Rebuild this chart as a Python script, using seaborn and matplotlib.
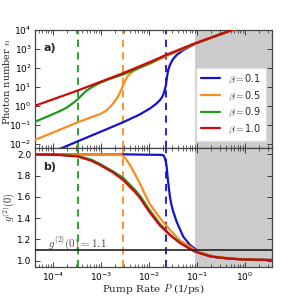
import numpy as np
import pandas as pd
import matplotlib
matplotlib.use("Agg")
import matplotlib.pyplot as plt
import seaborn as sns

# ---- data (log10 units) ----
betas = ["0.1", "0.5", "0.9", "1.0"]
colors = ["#1414c8", "#ff8a1e", "#1e9a1e", "#cc0a0a"]

# photon number n  (log10 P, log10 n)
n_b01_logP = [-4.42, -3.485, -3.021, -2.542, -2.2, -1.979, -1.85, -1.771, -1.72, -1.688, -1.646, -1.625, -1.6, -1.563, -1.5, -1.423, -1.3, -1.215, -1.042, -0.729, -0.521, -0.271, 0.6]
n_b01_logn = [-2.84, -1.85, -1.36, -0.85, -0.45, -0.12, 0.12, 0.32, 0.50, 0.70, 1.12, 1.54, 1.90, 2.17, 2.47, 2.69, 2.92, 3.04, 3.27, 3.57, 3.76, 3.99, 4.83]
n_b05_logP = [-4.42, -3.485, -3.2, -3.021, -2.9, -2.813, -2.72, -2.646, -2.6, -2.556, -2.5, -2.45, -2.396, -2.3, -2.188, -1.979, -1.646, -1.354, -1.042, -0.271, 0.6]
n_b05_logn = [-1.82, -0.85, -0.58, -0.42, -0.25, -0.05, 0.22, 0.51, 0.74, 1.00, 1.32, 1.55, 1.70, 1.88, 2.02, 2.23, 2.62, 2.93, 3.27, 3.98, 4.83]
n_b09_logP = [-4.42, -4.063, -3.85, -3.708, -3.6, -3.485, -3.39, -3.298, -3.15, -3.021, -2.85, -2.673, -2.542, -2.3, -1.979, -1.646, -1.042, -0.271, 0.6]
n_b09_logn = [-0.87, -0.49, -0.25, -0.07, 0.13, 0.36, 0.60, 0.82, 1.06, 1.22, 1.40, 1.55, 1.66, 1.91, 2.26, 2.67, 3.29, 3.99, 4.83]
n_b10_logP = [-4.42, -3.485, -2.542, -1.979, -1.646, -1.042, -0.271, 0.6]
n_b10_logn = [-0.02, 0.82, 1.73, 2.32, 2.69, 3.30, 4.00, 4.84]

# g2(0)  (log10 P, g2)
g_b01_logP = [-4.42, -2.5, -1.72, -1.69, -1.667, -1.645, -1.631, -1.615, -1.598, -1.563, -1.53, -1.494, -1.423, -1.35, -1.285, -1.146, -0.938, -0.590, -0.104, 0.6]
g_b01_g = [2.0, 2.0, 1.995, 1.985, 1.96, 1.92, 1.88, 1.80, 1.725, 1.60, 1.52, 1.46, 1.365, 1.29, 1.225, 1.147, 1.075, 1.03, 1.013, 1.005]
g_b05_logP = [-4.42, -2.6, -2.56, -2.5, -2.45, -2.396, -2.3, -2.188, -2.08, -1.979, -1.771, -1.563, -1.354, -1.042, -0.729, -0.104, 0.6]
g_b05_g = [2.0, 2.0, 1.99, 1.965, 1.935, 1.90, 1.82, 1.725, 1.62, 1.53, 1.40, 1.29, 1.19, 1.10, 1.045, 1.013, 1.005]
g_b09_logP = [-4.42, -3.9, -3.485, -3.2, -3.021, -2.75, -2.542, -2.3, -2.188, -1.979, -1.771, -1.563, -1.354, -1.146, -1.042, -0.729, -0.35, 0.0, 0.6]
g_b09_g = [2.0, 1.997, 1.985, 1.95, 1.91, 1.84, 1.78, 1.67, 1.61, 1.47, 1.345, 1.245, 1.17, 1.11, 1.087, 1.04, 1.02, 1.01, 1.005]
g_b10_logP = [-4.42, -3.9, -3.485, -3.2, -3.021, -2.75, -2.542, -2.3, -2.188, -1.979, -1.771, -1.563, -1.354, -1.146, -1.042, -0.729, -0.35, 0.0, 0.6]
g_b10_g = [2.0, 1.995, 1.98, 1.94, 1.90, 1.83, 1.76, 1.65, 1.59, 1.45, 1.33, 1.24, 1.165, 1.11, 1.085, 1.04, 1.02, 1.01, 1.005]

thresholds = [0.0226, 0.0029, 0.00033]   # beta=0.1, 0.5, 0.9 dashed lines
threshold_colors = ["#1414c8", "#ff8a1e", "#1e9a1e"]
shade_start = 0.089
g2_ref = 1.1

# ---- build tables ----
rows_n, rows_g = [], []
for b, lp, ln in zip(betas, [n_b01_logP, n_b05_logP, n_b09_logP, n_b10_logP],
                     [n_b01_logn, n_b05_logn, n_b09_logn, n_b10_logn]):
    for a, c in zip(lp, ln):
        rows_n.append({"beta": b, "P": 10 ** a, "n": 10 ** c})
for b, lp, gg in zip(betas, [g_b01_logP, g_b05_logP, g_b09_logP, g_b10_logP],
                     [g_b01_g, g_b05_g, g_b09_g, g_b10_g]):
    for a, c in zip(lp, gg):
        rows_g.append({"beta": b, "P": 10 ** a, "g2": c})
df_n = pd.DataFrame(rows_n)
df_g = pd.DataFrame(rows_g)

sns.set_style("ticks")
plt.rcParams["mathtext.fontset"] = "cm"
plt.rcParams["font.family"] = ["DejaVu Sans"]
plt.rcParams["xtick.direction"] = "in"
plt.rcParams["ytick.direction"] = "in"

fig = plt.figure(figsize=(2.99, 2.97), dpi=100)
W, H = 299, 297
ax1 = fig.add_axes([35 / W, 1 - 148 / H, 237 / W, 118 / H])
ax2 = fig.add_axes([35 / W, 1 - 267 / H, 237 / W, 119 / H], sharex=ax1)

palette = dict(zip(betas, colors))
xlo, xhi = 10 ** -4.375, 10 ** 0.5625

for ax in (ax1, ax2):
    ax.axvspan(shade_start, xhi * 2, color="#cccccc", lw=0, zorder=0)
    for t, c in zip(thresholds, threshold_colors):
        ax.axvline(t, color=c, ls=(0, (4, 3)), lw=1.3, zorder=1)

sns.lineplot(data=df_n, x="P", y="n", hue="beta", palette=palette, lw=1.6,
             ax=ax1, sort=False, estimator=None, legend=False, zorder=3)
sns.lineplot(data=df_g, x="P", y="g2", hue="beta", palette=palette, lw=1.6,
             ax=ax2, sort=False, estimator=None, legend=False, zorder=3)
ax2.axhline(g2_ref, color="#222222", lw=1.2, zorder=4)

ax1.set_xscale("log")
ax1.set_yscale("log")
ax1.set_xlim(xlo, xhi)
ax1.set_ylim(10 ** -2.2, 1e4)
ax1.set_yticks([10.0 ** k for k in range(-2, 5)])
ax1.yaxis.set_minor_locator(matplotlib.ticker.NullLocator())
ax2.set_ylim(0.94, 2.06)
ax2.set_yticks([1.0, 1.2, 1.4, 1.6, 1.8, 2.0])
ax2.set_yticklabels(["1.0", "1.2", "1.4", "1.6", "1.8", "2.0"])

for ax in (ax1, ax2):
    ax.tick_params(which="both", top=True, right=True, direction="in",
                   labelsize=6.5, colors="#222222", labelcolor="black", pad=2.5)
    ax.tick_params(which="major", length=3.5, width=0.6)
    ax.tick_params(which="minor", length=2, width=0.5)
    for s in ax.spines.values():
        s.set_color("#444444")
        s.set_linewidth(0.9)
ax1.tick_params(labelbottom=False)
ax1.set_xlabel("")

ax1.set_ylabel(r"Photon number $n$", family="DejaVu Serif", fontsize=7)
ax1.yaxis.set_label_coords(-0.095, 0.56)
ax2.set_ylabel(r"$g^{(2)}(0)$", fontsize=7.5)
ax2.yaxis.set_label_coords(-0.075, 0.50)
ax2.set_xlabel(r"Pump Rate $P$ (1/ps)", family="DejaVu Serif", fontsize=7.5)
ax2.xaxis.set_label_coords(0.5, -0.125)

ax1.text(0.035, 0.85, "a)", transform=ax1.transAxes, fontsize=8, weight="bold", va="center")
ax2.text(0.035, 0.84, "b)", transform=ax2.transAxes, fontsize=8, weight="bold", va="center")
ax2.text(0.055, g2_ref + 0.06, r"$g^{(2)}(0)=1.1$", transform=ax2.get_yaxis_transform(),
         fontsize=8, color="#444444", va="center")

handles = [matplotlib.lines.Line2D([], [], color=c, lw=1.6) for c in colors]
labels = [r"$\beta=$" + b for b in betas]
leg = ax1.legend(handles, labels, loc="lower right", fontsize=7, frameon=True,
                 fancybox=False, framealpha=1, edgecolor="#dddddd",
                 handlelength=2.0, borderpad=0.5, labelspacing=0.35,
                 bbox_to_anchor=(0.995, 0.02))

fig.savefig("out.png", dpi=100)
